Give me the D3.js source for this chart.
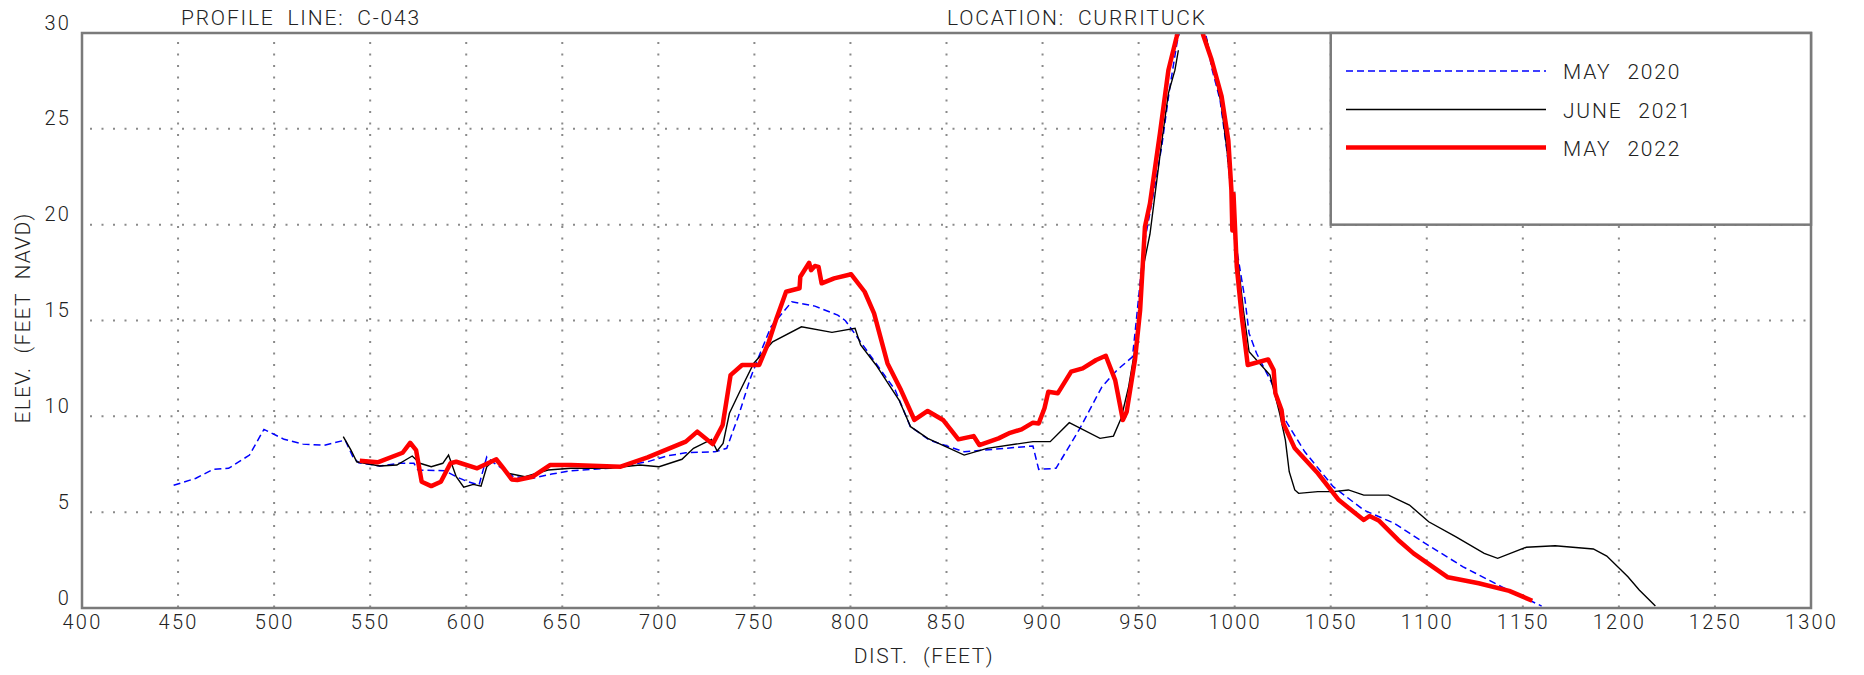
<!DOCTYPE html>
<html>
<head>
<meta charset="utf-8">
<script src="https://cdn.jsdelivr.net/npm/d3@7"></script>
<style>
  html, body { margin: 0; padding: 0; background: #fff; }
  svg text { font-family: "Roboto", "Liberation Sans", sans-serif; font-weight: 300; fill: #222; }
</style>
</head>
<body>
<svg id="chart" width="1864" height="675"></svg>
<script>
// ---------- DATA ----------
const chartTitle = "PROFILE LINE: C-043";
const chartLocation = "LOCATION: CURRITUCK";
const xTicks = [400, 450, 500, 550, 600, 650, 700, 750, 800, 850, 900, 950, 1000, 1050, 1100, 1150, 1200, 1250, 1300];
const yTicks = [0, 5, 10, 15, 20, 25, 30];
const seriesNames = ["MAY 2020", "JUNE 2021", "MAY 2022"];

const may2020Dist = [447.7,459.3,468.2,476.3,487.2,494.7,505.2,515,526,537,541,544,555,565,572.8,574.9,588.8,594.8,600.7,606.7,610.7,614.7,624.7,634.6,644.5,654.5,674.5,694.4,704.4,714.3,729.5,735.6,741.6,747.6,751.6,758.6,769.5,781.5,793.4,797.4,803.4,813.3,823.3,831.2,841.2,859.2,895,898,907,919,930.9,938.8,946.8,948.8,952.5,954.2,957.7,962,966,970,976,984,988,992.4,995.9,1001.1,1005.4,1007.5,1011.4,1019.4,1025.4,1027.4,1036.5,1051.3,1067.2,1083.1,1099,1118.9,1138.9,1159.8];
const may2020Elev = [6.40,6.77,7.23,7.29,7.98,9.32,8.80,8.55,8.49,8.76,7.89,7.58,7.41,7.55,7.55,7.2,7.16,6.85,6.59,6.42,7.89,7.55,6.85,6.77,6.99,7.16,7.29,7.63,7.93,8.1,8.15,8.33,9.98,11.9,12.94,14.67,15.98,15.75,15.28,14.99,14.15,12.76,11.37,9.46,8.76,8.15,8.45,7.23,7.29,9.29,11.54,12.42,13.1,15.0,18.7,19.7,21.6,24.06,27,29.5,32,30.5,28.2,26.5,23.9,18.7,16.07,14.33,13.29,11.72,9.98,9.63,8.15,6.33,5.11,4.42,3.38,2.15,1.11,0.1];

// null marks the gap in the June 2021 survey at the dune crest
const june2021Dist = [536,540,543,555,563.9,571.9,575.9,581.8,587.8,590.8,594.8,598.7,603.7,607.7,610.7,614.7,621.6,630.6,642.6,654.5,674.5,690.4,700.4,712.3,718.3,727.7,730.6,733.7,737,743.6,749.6,759.5,774.5,790.4,802.4,805.3,813.3,825.3,831.3,840.2,859.2,871.1,895,904,913.9,929.9,936.9,940.9,944.8,949.8,952.8,955.9,962,965.5,968.9,970.7,null,985.3,988.9,993,996,1001,1004.6,1007.5,1018.4,1023.4,1026.4,1028.4,1031.3,1033.3,1043.3,1051.3,1059.2,1067.2,1080.1,1091,1101,1115,1129.9,1136.9,1151.8,1166.8,1186.7,1193.7,1204.7,1210.6,1219];
const june2021Elev = [8.94,8.24,7.63,7.41,7.46,7.93,7.55,7.37,7.55,7.98,6.85,6.30,6.45,6.36,7.37,7.72,7.03,6.85,7.2,7.29,7.29,7.46,7.37,7.76,8.33,8.8,8.19,8.59,10.16,11.54,12.76,13.89,14.67,14.38,14.59,13.72,12.68,10.85,9.46,8.85,7.98,8.33,8.68,8.68,9.67,8.85,8.97,9.9,11.54,14.5,17.98,19.5,24.3,26.85,28.06,29.1,null,29.7,28.24,26.3,23.9,18.7,15.5,13.37,12.15,10.16,8.76,7.11,6.16,5.98,6.07,6.07,6.16,5.89,5.89,5.37,4.5,3.72,2.85,2.59,3.17,3.25,3.08,2.71,1.63,0.94,0.1];

const may2022Dist = [544.6,553.9,566.9,570.8,573.9,576.8,581.8,586.8,591.8,594.8,605.7,615.7,618.7,623.7,626.6,634.6,643.6,654.5,680.4,694.4,714.3,720.3,728.3,733.5,737.6,743.6,752.5,757.5,761.5,766.5,773.5,773.9,778.5,779.5,781.5,783.4,785,791.5,800.4,807.4,812.3,819.3,826.3,833.3,840.2,848.2,856.2,864.1,867.1,877.1,883.1,889.1,895,898,901,903,907.9,914.9,920.9,927.9,932.9,937.8,941.8,943.8,948.1,950.8,953.3,955.9,961.1,965.5,969.8,976.5,983.6,988,993.2,996.7,998.3,998.8,999.4,1001.1,1003.7,1006.8,1017.4,1020.3,1021.2,1024.4,1025.3,1031.3,1043.3,1054.2,1067.2,1070.2,1075.2,1085.1,1093.1,1111,1127,1142.9,1154.9];
const may2022Elev = [7.68,7.6,8.1,8.62,8.24,6.59,6.36,6.59,7.55,7.63,7.29,7.76,7.37,6.71,6.68,6.85,7.46,7.46,7.37,7.86,8.68,9.2,8.55,9.55,12.15,12.68,12.68,13.89,15.11,16.5,16.68,17.28,18.01,17.63,17.84,17.8,16.94,17.2,17.41,16.5,15.37,12.76,11.37,9.81,10.28,9.81,8.8,8.97,8.5,8.85,9.14,9.32,9.67,9.63,10.42,11.28,11.2,12.33,12.5,12.94,13.16,11.89,9.81,10.24,12.94,15.55,19.89,21.1,24.76,28.06,29.8,33,29.9,28.6,26.7,24.4,21.8,19.7,21.6,17.8,15.2,12.68,12.97,12.41,11.2,10.33,9.63,8.33,7.03,5.63,4.59,4.8,4.55,3.55,2.85,1.6,1.29,0.89,0.38];

// legend box spans this data region
const legendDist = [1050, 1300];
const legendElev = [20, 30];

// ---------- CHART ----------
const svg = d3.select("#chart");
const L = 82, R = 1811, T = 33, B = 608;
const x = d3.scaleLinear().domain([400, 1300]).range([L, R]);
const y = d3.scaleLinear().domain([0, 30]).range([B, T]);

svg.append("defs").append("clipPath").attr("id", "plotclip")
  .append("rect").attr("x", L).attr("y", T).attr("width", R - L).attr("height", B - T);

// dotted grid
const grid = svg.append("g");
grid.selectAll("line.v").data(xTicks.slice(1, -1)).enter().append("line")
  .attr("x1", d => x(d)).attr("x2", d => x(d)).attr("y1", T + 9).attr("y2", B)
  .attr("stroke", "#8a8a8a").attr("stroke-width", 2).attr("stroke-dasharray", "2,9.5");
grid.selectAll("line.h").data(yTicks.slice(1, -1)).enter().append("line")
  .attr("x1", L + 8).attr("x2", R).attr("y1", d => y(d)).attr("y2", d => y(d))
  .attr("stroke", "#8a8a8a").attr("stroke-width", 2).attr("stroke-dasharray", "2,9.5");

// series
function pts(xs, ys) { return xs.map((d, i) => [d, ys[i]]); }
const line = d3.line().defined(d => d[0] !== null && d[1] !== null).x(d => x(d[0])).y(d => y(d[1]));
const plot = svg.append("g").attr("clip-path", "url(#plotclip)");
plot.append("path").attr("d", line(pts(may2020Dist, may2020Elev)))
  .attr("fill", "none").attr("stroke", "#0000ff").attr("stroke-width", 1.5).attr("stroke-dasharray", "7,4");
plot.append("path").attr("d", line(pts(june2021Dist, june2021Elev)))
  .attr("fill", "none").attr("stroke", "#000").attr("stroke-width", 1.4);
plot.append("path").attr("d", line(pts(may2022Dist, may2022Elev)))
  .attr("fill", "none").attr("stroke", "#ff0000").attr("stroke-width", 4.5).attr("stroke-linejoin", "round");

// frame
svg.append("rect").attr("x", L).attr("y", T).attr("width", R - L).attr("height", B - T)
  .attr("fill", "none").attr("stroke", "#7a7a7a").attr("stroke-width", 2.5);

// axes labels via d3 axes (lines hidden, text kept)
const xAxis = svg.append("g").attr("transform", `translate(0,${B})`)
  .call(d3.axisBottom(x).tickValues(xTicks).tickSize(0).tickPadding(0).tickFormat(d3.format("d")));
xAxis.select(".domain").remove();
xAxis.selectAll("text").attr("y", 21).attr("dy", 0)
  .style("font-size", "20px").style("letter-spacing", "2.2px").attr("fill", "#222");

const yAxis = svg.append("g").attr("transform", `translate(${L},0)`)
  .call(d3.axisLeft(y).tickValues(yTicks).tickSize(0).tickPadding(0).tickFormat(d3.format("d")));
yAxis.select(".domain").remove();
yAxis.selectAll("text").attr("x", -11).attr("dy", -4)
  .style("font-size", "20px").style("letter-spacing", "2.2px").attr("fill", "#222");

svg.append("text").attr("x", 924).attr("y", 663).attr("text-anchor", "middle")
  .style("font-size", "21px").style("letter-spacing", "1.5px").style("word-spacing", "8px").text("DIST. (FEET)");
svg.append("text").attr("transform", "translate(30,318) rotate(-90)").attr("text-anchor", "middle")
  .style("font-size", "21px").style("letter-spacing", "1.2px").style("word-spacing", "7px").text("ELEV. (FEET NAVD)");

svg.append("text").attr("x", 181).attr("y", 25)
  .style("font-size", "21px").style("letter-spacing", "1.8px").style("word-spacing", "6px").text(chartTitle);
svg.append("text").attr("x", 947).attr("y", 25)
  .style("font-size", "21px").style("letter-spacing", "1.8px").style("word-spacing", "6px").text(chartLocation);

// legend
const lg = svg.append("g");
lg.append("rect").attr("x", x(legendDist[0])).attr("y", y(legendElev[1]))
  .attr("width", x(legendDist[1]) - x(legendDist[0])).attr("height", y(legendElev[0]) - y(legendElev[1]))
  .attr("fill", "#fff").attr("stroke", "#7a7a7a").attr("stroke-width", 2.5);
const legStyles = [
  {color: "#0000ff", w: 1.5, dash: "7,4"},
  {color: "#000", w: 1.6, dash: null},
  {color: "#ff0000", w: 4.5, dash: null}
];
const legY = [71, 109.5, 147.5];
seriesNames.forEach((name, i) => {
  lg.append("line").attr("x1", 1346).attr("x2", 1546).attr("y1", legY[i]).attr("y2", legY[i])
    .attr("stroke", legStyles[i].color).attr("stroke-width", legStyles[i].w)
    .attr("stroke-dasharray", legStyles[i].dash);
  lg.append("text").attr("x", 1563).attr("y", legY[i] + 8)
    .style("font-size", "21px").style("letter-spacing", "1.8px").style("word-spacing", "9px").text(name);
});
</script>
</body>
</html>
